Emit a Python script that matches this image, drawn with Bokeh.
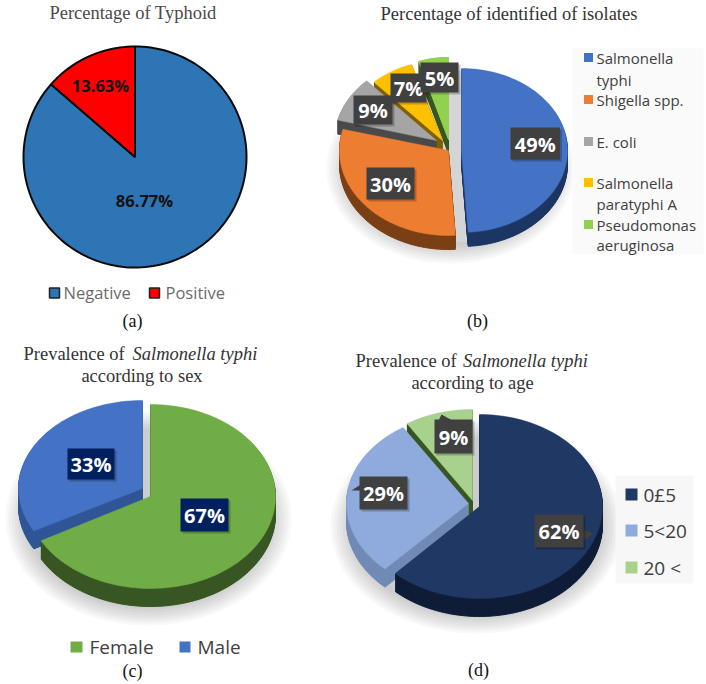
import math
from bokeh.plotting import figure
from bokeh.models import Range1d
from bokeh.core.properties import value
from bokeh.embed import file_html
from bokeh.resources import INLINE

typhoid_labels = ["Negative", "Positive"]
typhoid_values = [86.77, 13.63]
isolate_labels = ["Salmonella typhi", "Shigella spp.", "E. coli", "Salmonella paratyphi A", "Pseudomonas aeruginosa"]
isolate_values = [49, 30, 9, 7, 5]
sex_labels = ["Female", "Male"]
sex_values = [67, 33]
age_labels = ["0£5", "5<20", "20 <"]
age_values = [62, 29, 9]

SERIF = value("Liberation Serif")
SANS = value("Open Sans")
TITLE = 18.5

p = figure(width=706, height=684, x_range=Range1d(0, 706), y_range=Range1d(684, 0),
           output_backend="svg", toolbar_location=None, min_border=0)
p.axis.visible = False
p.grid.visible = False
p.outline_line_color = None


def slice_pts(cx, cy, rx, ry, a0, a1):
    n = max(8, int(abs(a1 - a0) / 2))
    xs, ys = [cx], [cy]
    for i in range(n + 1):
        t = math.radians(a0 + (a1 - a0) * i / n)
        xs.append(cx + rx * math.sin(t))
        ys.append(cy - ry * math.cos(t))
    return xs, ys


def pie3d(values, colors, sides, geom, depth):
    total = sum(values)
    ang, spans = 0.0, []
    for v in values:
        spans.append((ang, ang + v / total * 360))
        ang += v / total * 360
    for i in reversed(range(len(values))):
        cx, cy, rx, ry = geom[i]
        xs, ys = slice_pts(cx, cy, rx, ry, *spans[i])
        if depth:
            p.patches([xs] * depth, [[y + d for y in ys] for d in range(1, depth + 1)],
                      fill_color=sides[i], line_color=sides[i], line_width=1)
        p.patch(xs, ys, fill_color=colors[i], line_color=colors[i], line_width=0.5)


def shadow(cx, cy, rx, ry):
    for k in range(8):
        p.ellipse([cx], [cy], width=[2 * rx + 6 * k - 6], height=[2 * ry + 5 * k - 5],
                  fill_color="#555555", fill_alpha=0.045, line_color=None)


def text(x, y, s, size, color="#404040", font=SANS, style="normal", align="left", angle=0):
    p.text([x], [y], text=[s], text_font=font, text_font_size=f"{size}px", text_font_style=style,
           text_color=color, text_align=align, text_baseline="middle")


def box(x0, x1, y0, y1, color):
    p.quad(left=[x0 + 2], right=[x1 + 2], top=[y0 + 2], bottom=[y1 + 2], fill_color="#000000",
           fill_alpha=0.22, line_color=None)
    p.quad(left=[x0], right=[x1], top=[y0], bottom=[y1], fill_color=color, line_color=None)


def label(x0, x1, y0, y1, s, color="#404040", tip=None):
    if tip:
        p.patch(tip[0], tip[1], fill_color=color, line_color=None)
    box(x0, x1, y0, y1, color)
    text((x0 + x1) / 2, (y0 + y1) / 2 + 0.5, s, 20, color="#ffffff", style="bold", align="center")


def square(x0, x1, y0, y1, color, line=None):
    p.quad(left=[x0], right=[x1], top=[y0], bottom=[y1], fill_color=color, line_color=line, line_width=1.5)


# ---------- (a)
text(132.5, 12, "Percentage of Typhoid", TITLE, color="#4a4a4a", font=SERIF, align="center")
a_spans = [0, typhoid_values[0] / sum(typhoid_values) * 360, 360]
for i, c in enumerate(["#2e75b6", "#ff0000"]):
    xs, ys = slice_pts(134.5, 156.5, 111.5, 110.5, a_spans[i], a_spans[i + 1])
    p.patch(xs, ys, fill_color=c, line_color="#0a0a0a", line_width=2)
text(100, 85, f"{typhoid_values[1]:.2f}%", 16.5, color="#111111", style="bold", align="center")
text(144, 200, f"{typhoid_values[0]:.2f}%", 16.5, color="#111111", style="bold", align="center")
square(49, 59, 287.5, 297.5, "#2e75b6", "#222222")
text(63, 292, typhoid_labels[0], 16.5, color="#6b6b6b")
square(149, 159, 287.5, 297.5, "#ff0000", "#222222")
text(165, 292, typhoid_labels[1], 16.5, color="#6b6b6b")
text(132, 320, "(a)", 18, color="#111111", font=SERIF, align="center")

# ---------- (b)
text(508.5, 13, "Percentage of identified of isolates", TITLE, color="#333333", font=SERIF, align="center")
shadow(450, 168, 106, 80)
p.ellipse([452], [156], width=[216], height=[172], fill_color="#d8d8d8", fill_alpha=0.7, line_color=None)
pie3d(isolate_values,
      ["#4472c4", "#ed7d31", "#a5a5a5", "#ffc000", "#70ad47"],
      ["#1c3664", "#7a3f14", "#4a4a4a", "#7f6000", "#38571f"],
      [(461, 150, 106, 82), (448, 150, 109, 85), (436, 140, 102, 82), (442, 140, 100, 80), (448, 139, 96, 82)], 14)
p.patch(*slice_pts(448, 139, 96, 82, 342, 360), fill_color="#92d050", line_color="#92d050")
label(510, 559.5, 127, 159, f"{isolate_values[0]}%")
label(366, 414, 167, 199, f"{isolate_values[1]}%")
label(353, 392, 95, 124, f"{isolate_values[2]}%")
label(390, 426, 73, 102, f"{isolate_values[3]}%")
label(420, 458, 62, 92, f"{isolate_values[4]}%")
p.quad(left=[572], right=[703], top=[48], bottom=[254], fill_color="#fafafa", line_color=None)
b_rows = [("#4472c4", 57, ["Salmonella", "typhi"], 22), ("#ed7d31", 99, ["Shigella spp."], 0),
          ("#a5a5a5", 141, ["E. coli"], 0), ("#ffc000", 182, ["Salmonella", "paratyphi A"], 21),
          ("#92d050", 224, ["Pseudomonas", "aeruginosa"], 20)]
for c, y, lines, dy in b_rows:
    square(583.5, 592.5, y - 4.5, y + 4.5, c)
    for j, s in enumerate(lines):
        text(596, y + j * dy, s, 15, color="#404040")
text(477, 320, "(b)", 18, color="#111111", font=SERIF, align="center")

# ---------- (c)
text(23, 353, "Prevalence of", TITLE, color="#333333", font=SERIF)
text(132, 353, "Salmonella typhi", TITLE, color="#333333", font=SERIF, style="italic")
text(141.5, 375, "according to sex", TITLE, color="#333333", font=SERIF, align="center")
shadow(148, 518, 125, 92)
pie3d(sex_values, ["#70ad47", "#4472c4"], ["#375623", "#2f5597"],
      [(150, 496, 125, 92), (142, 488, 124, 88)], 18)
label(180, 228, 498, 531, f"{sex_values[0]}%", color="#002060")
label(67, 114, 448, 479, f"{sex_values[1]}%", color="#002060")
square(70, 82, 641, 652, "#70ad47")
text(89, 646, sex_labels[0], 19, color="#404040")
square(179, 190, 641, 652, "#4472c4")
text(197, 646, sex_labels[1], 19, color="#404040")
text(132, 670, "(c)", 18, color="#111111", font=SERIF, align="center")

# ---------- (d)
text(355, 360, "Prevalence of", TITLE, color="#333333", font=SERIF)
text(462.5, 360, "Salmonella typhi", TITLE, color="#333333", font=SERIF, style="italic")
text(472, 382, "according to age", TITLE, color="#333333", font=SERIF, align="center")
shadow(476, 526, 128, 92)
pie3d(age_values, ["#1f3864", "#8faadc", "#a9d18e"], ["#0e1c38", "#7189b5", "#375623"],
      [(479, 506, 123, 92), (468, 503, 122, 90), (472, 500, 122, 91)], 18)
label(534, 583, 514, 547, f"{age_values[0]}%", tip=([575, 593, 575], [526, 533, 546]))
label(359, 407, 476, 509, f"{age_values[1]}%", tip=([365, 351, 365], [481, 490, 490]))
label(434, 472, 419, 453, f"{age_values[2]}%", tip=([438, 441, 452], [420, 414, 420]))
p.quad(left=[615], right=[693], top=[475], bottom=[583], fill_color="#f7f7f7", line_color=None)
for c, y, s in zip(["#1f3864", "#8faadc", "#a9d18e"], [494, 530, 567], age_labels):
    square(625, 637, y - 6, y + 6, c)
    text(643, y, s, 19, color="#404040")
text(478, 669, "(d)", 18, color="#111111", font=SERIF, align="center")

open("out.html", "w").write(file_html(p, INLINE))
